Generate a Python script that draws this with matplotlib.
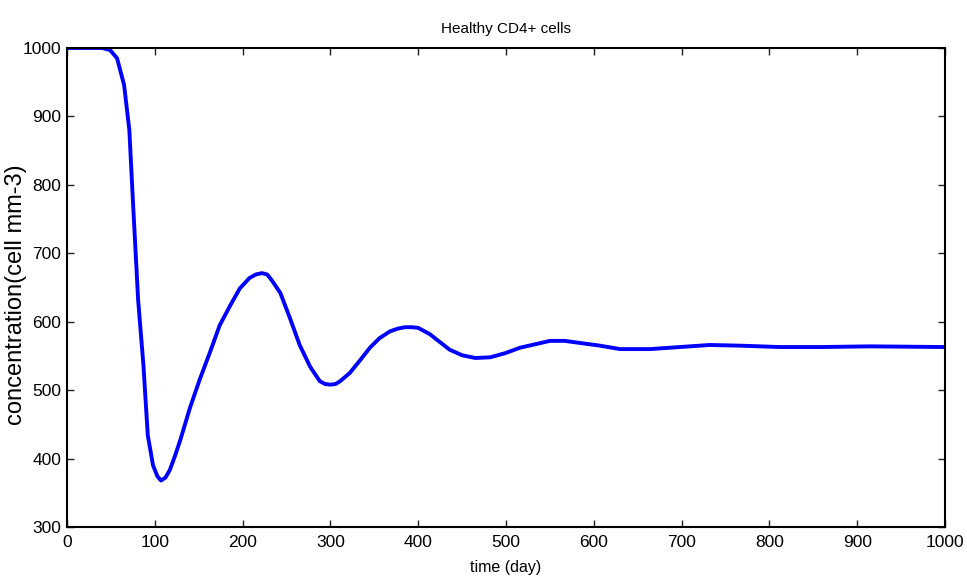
import matplotlib
matplotlib.use('Agg')
import matplotlib.pyplot as plt

# time (day) and healthy CD4+ concentration
time_day = [0, 20, 40, 49, 57, 65, 71, 75, 81, 87, 92, 98, 103, 107, 112, 117,
            123, 129, 140, 151, 163, 174, 186, 197, 208, 215, 222, 228, 233,
            243, 254, 265, 277, 288, 294, 300, 306, 311, 322, 334, 345, 356,
            368, 377, 385, 393, 400, 413, 425, 436, 450, 465, 482, 499, 516,
            533, 550, 567, 584, 607, 630, 664, 698, 732, 767, 812, 858, 915,
            1000]
cd4_cells = [1000, 1000, 1000, 997, 985, 946, 880, 778, 632, 537, 434, 390,
             374, 368, 372, 383, 404, 427, 474, 515, 556, 595, 624, 649, 664,
             669, 671, 669, 661, 642, 605, 566, 534, 513, 509, 508, 509, 513,
             525, 544, 562, 576, 586, 590, 592, 592, 591, 582, 570, 559, 551,
             547, 548, 554, 562, 567, 572, 572, 569, 565, 560, 560, 563, 566,
             565, 563, 563, 564, 563]

xticks = [0, 100, 200, 300, 400, 500, 600, 700, 800, 900, 1000]
yticks = [300, 400, 500, 600, 700, 800, 900, 1000]

fonts = ['Liberation Sans', 'DejaVu Sans']
plt.rcParams['font.family'] = fonts

fig = plt.figure(figsize=(9.67, 5.85), dpi=100)
ax = fig.add_axes([0.0693, 0.0991, 0.9079, 0.8189])

ax.plot(time_day, cd4_cells, color='#0000ff', linewidth=2.8,
        solid_joinstyle='round', solid_capstyle='round')

ax.set_xlim(0, 1000)
ax.set_ylim(300, 1000)
ax.set_xticks(xticks)
ax.set_yticks(yticks)
ax.tick_params(direction='in', length=5, width=1, top=True, right=True,
               labelsize=12.5, colors='#222222', labelcolor='black')
ax.tick_params(axis='x', pad=6)
ax.tick_params(axis='y', pad=4)
for sp in ax.spines.values():
    sp.set_linewidth(1.5)
    sp.set_color('black')

ax.set_title('Healthy CD4+ cells', fontsize=11, pad=11)
ax.set_xlabel('time (day)', fontsize=11.5, labelpad=7)
ax.set_ylabel('concentration(cell mm-3)', fontsize=17)
ax.yaxis.set_label_coords(-0.046, 0.484)

fig.savefig('out.png', dpi=100)
